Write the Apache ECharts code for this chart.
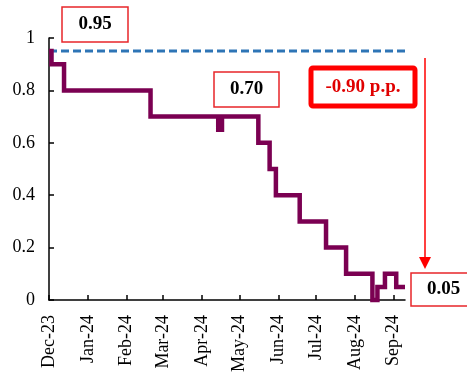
<!DOCTYPE html>
<html><head><meta charset="utf-8">
<script src="https://cdn.jsdelivr.net/npm/echarts@6/dist/echarts.min.js"></script>
<style>html,body{margin:0;padding:0;background:#fff}#c{width:467px;height:384px}</style>
</head><body><div id="c"></div>
<script>
// ---- data ----
const stepDates = ['2023-12-01','2023-12-03','2023-12-13','2024-02-20','2024-04-14','2024-04-17','2024-05-16','2024-05-25','2024-05-30','2024-06-18','2024-07-09','2024-07-25','2024-08-15','2024-08-19','2024-08-25','2024-09-03','2024-09-10'];
const stepValues = [0.95,0.9,0.8,0.7,0.65,0.7,0.6,0.5,0.4,0.3,0.2,0.1,0,0.05,0.1,0.05,0.05];
const refDates = ['2023-12-01','2024-09-18'];
const refValues = [0.95,0.95];
const monthNames = ['Jan','Feb','Mar','Apr','May','Jun','Jul','Aug','Sep','Oct','Nov','Dec'];
const axisStart = '2023-12-01', axisEnd = '2024-09-10';
const annStart = '0.95', annMid = '0.70', annChange = '-0.90 p.p.', annEnd = '0.05';

function toTs(s){const p=s.split('-').map(Number);return new Date(p[0],p[1]-1,p[2]).getTime();}
const FONT = "'Liberation Serif','Times New Roman',serif";
const DAY = 864e5;
const chart = echarts.init(document.getElementById('c'), null, {renderer:'canvas'});

function box(x,y,w,h,txt,opt){
  opt = opt||{};
  return {type:'group', children:[
    {type:'rect', shape:{x:x,y:y,width:w,height:h,r:opt.r||0}, style:{fill:'#fff',stroke:opt.stroke||'#E8262A',lineWidth:opt.lw||1.5}, z:10},
    {type:'text', x:x+w/2, y:y+h/2, style:{text:txt, fill:opt.color||'#000', font:'bold 19px '+FONT, textAlign:'center', textVerticalAlign:'middle'}, z:11}
  ]};
}

chart.setOption({
  animation:false,
  backgroundColor:'#fff',
  grid:{left:49, right:62, top:38, bottom:84, containLabel:false},
  xAxis:{type:'time', min:toTs(axisStart), max:toTs(axisEnd), minInterval:28*DAY, maxInterval:31*DAY,
    axisLine:{lineStyle:{color:'#000',width:1.5}},
    axisTick:{show:true, inside:true, length:5, lineStyle:{color:'#000',width:1.5}},
    axisLabel:{rotate:90, fontSize:18, fontFamily:FONT, color:'#000', margin:15, showMaxLabel:false, hideOverlap:false,
      formatter:function(v){const d=new Date(v);return monthNames[d.getMonth()]+'-'+String(d.getFullYear()).slice(2);}},
    splitLine:{show:false}},
  yAxis:{type:'value', min:0, max:1, interval:0.2,
    axisLine:{show:true, lineStyle:{color:'#000',width:1.5}},
    axisTick:{show:true, inside:true, length:5, lineStyle:{color:'#000',width:1.5}},
    axisLabel:{fontSize:18, fontFamily:FONT, color:'#000', margin:14},
    splitLine:{show:false}},
  series:[
    {type:'line', data:refDates.map((d,i)=>[toTs(d),refValues[i]]), showSymbol:false, clip:false,
      lineStyle:{color:'#2E75B6', width:3, type:[8,4]}, z:2},
    {type:'line', step:'end', data:stepDates.map((d,i)=>[toTs(d),stepValues[i]]), showSymbol:false, clip:false,
      lineStyle:{color:'#7B0052', width:4.5, join:'miter'}, z:3}
  ],
  graphic:[
    box(62,7,66,35,annStart),
    box(214,72,65,35,annMid),
    box(311,68,104,38,annChange,{stroke:'#FF0000',lw:5,color:'#E00000',r:2}),
    box(411,273,65,33,annEnd),
    {type:'line', shape:{x1:425,y1:58,x2:425,y2:260}, style:{stroke:'#FF0000',lineWidth:1.5}, z:9},
    {type:'polygon', shape:{points:[[419,257],[431,257],[425,269]]}, style:{fill:'#FF0000'}, z:9}
  ]
});
</script></body></html>
